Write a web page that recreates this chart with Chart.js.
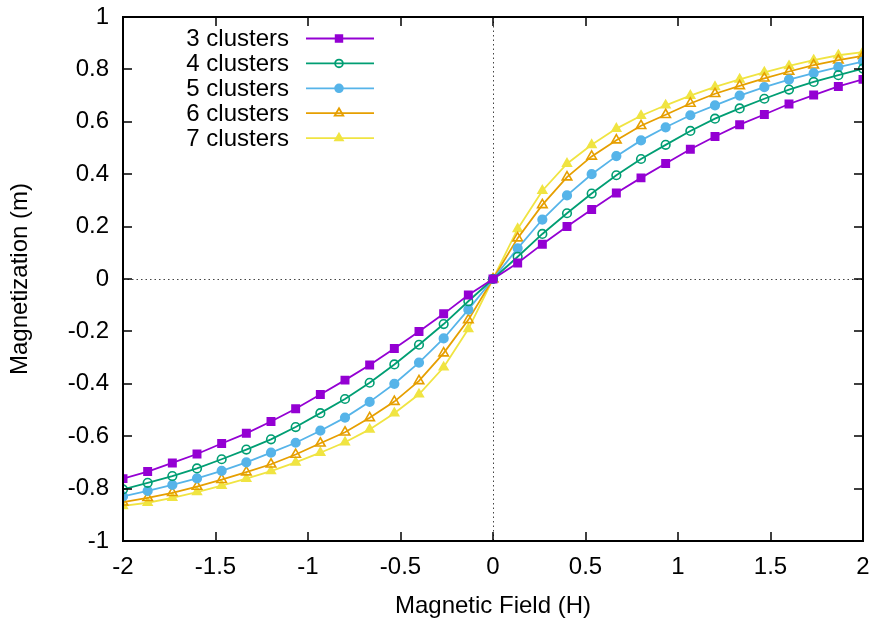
<!DOCTYPE html>
<html>
<head>
<meta charset="utf-8">
<script src="https://cdn.jsdelivr.net/npm/chart.js@4/dist/chart.umd.min.js"></script>
<style>
  html, body { margin: 0; padding: 0; background: #fff; }
  #wrap { width: 874px; height: 622px; }
</style>
</head>
<body>
<div id="wrap"><canvas id="c" width="874" height="622"></canvas></div>
<script>
// field values H
var field = [-2, -1.8667, -1.7333, -1.6, -1.4667, -1.3333, -1.2, -1.0667, -0.9333, -0.8, -0.6667, -0.5333, -0.4, -0.2667, -0.1333,
  0, 0.1333, 0.2667, 0.4, 0.5333, 0.6667, 0.8, 0.9333, 1.0667, 1.2, 1.3333, 1.4667, 1.6, 1.7333, 1.8667, 2];

// magnetization m for each cluster count
var m3 = [-0.762, -0.735, -0.702, -0.668, -0.628, -0.589, -0.544, -0.495, -0.441, -0.386, -0.328, -0.265, -0.200, -0.133, -0.061,
  0, 0.061, 0.133, 0.200, 0.265, 0.328, 0.386, 0.441, 0.495, 0.544, 0.589, 0.628, 0.668, 0.702, 0.735, 0.762];
var m4 = [-0.803, -0.778, -0.752, -0.723, -0.688, -0.651, -0.612, -0.565, -0.512, -0.458, -0.396, -0.326, -0.251, -0.172, -0.085,
  0, 0.085, 0.172, 0.251, 0.326, 0.396, 0.458, 0.512, 0.565, 0.612, 0.651, 0.688, 0.723, 0.752, 0.778, 0.803];
var m5 = [-0.830, -0.809, -0.786, -0.761, -0.732, -0.700, -0.663, -0.625, -0.579, -0.529, -0.469, -0.400, -0.319, -0.227, -0.117,
  0, 0.117, 0.227, 0.319, 0.400, 0.469, 0.529, 0.579, 0.625, 0.663, 0.700, 0.732, 0.761, 0.786, 0.809, 0.830];
var m6 = [-0.852, -0.835, -0.816, -0.792, -0.766, -0.737, -0.707, -0.670, -0.627, -0.585, -0.530, -0.468, -0.389, -0.283, -0.156,
  0, 0.156, 0.283, 0.389, 0.468, 0.530, 0.585, 0.627, 0.670, 0.707, 0.737, 0.766, 0.792, 0.816, 0.835, 0.852];
var m7 = [-0.866, -0.854, -0.835, -0.813, -0.789, -0.762, -0.733, -0.700, -0.663, -0.623, -0.574, -0.512, -0.440, -0.337, -0.191,
  0, 0.191, 0.337, 0.440, 0.512, 0.574, 0.623, 0.663, 0.700, 0.733, 0.762, 0.789, 0.813, 0.835, 0.854, 0.866];

var seriesNames = ['3 clusters', '4 clusters', '5 clusters', '6 clusters', '7 clusters'];
var xTicks = [-2, -1.5, -1, -0.5, 0, 0.5, 1, 1.5, 2];
var yTicks = [-1, -0.8, -0.6, -0.4, -0.2, 0, 0.2, 0.4, 0.6, 0.8, 1];

var FONT = "'Liberation Sans', Arial, sans-serif";

function pairs(ys) {
  return field.map(function (h, i) { return { x: h, y: ys[i] }; });
}

function series(label, ys, color, style, filled, r) {
  return {
    label: label,
    data: pairs(ys),
    showLine: true,
    borderColor: color,
    borderWidth: 1.8,
    pointStyle: style,
    pointRadius: r,
    pointBorderWidth: 1.6,
    pointBorderColor: color,
    pointBackgroundColor: filled ? color : 'rgba(255,255,255,0)',
    pointHoverRadius: r
  };
}

// frame, inward ticks on all sides, dotted zero axes, and the key
var gnuplotFrame = {
  id: 'gnuplotFrame',
  beforeDatasetsDraw: function (chart) {
    var ctx = chart.ctx, a = chart.chartArea;
    var xs = chart.scales.x, ys = chart.scales.y;
    ctx.save();
    ctx.strokeStyle = '#444';
    ctx.lineWidth = 1;
    ctx.setLineDash([1.5, 3]);
    var x0 = Math.round(xs.getPixelForValue(0)) + 0.5;
    var y0 = Math.round(ys.getPixelForValue(0)) + 0.5;
    ctx.beginPath();
    ctx.moveTo(x0, a.top); ctx.lineTo(x0, a.bottom);
    ctx.moveTo(a.left, y0); ctx.lineTo(a.right, y0);
    ctx.stroke();
    ctx.restore();
  },
  afterDatasetsDraw: function (chart) {
    var ctx = chart.ctx, a = chart.chartArea;
    var xs = chart.scales.x, ys = chart.scales.y;
    var len = 9;
    ctx.save();
    ctx.strokeStyle = '#000';
    ctx.lineWidth = 1.5;
    ctx.beginPath();
    xTicks.forEach(function (v) {
      var px = Math.round(xs.getPixelForValue(v));
      ctx.moveTo(px, a.bottom); ctx.lineTo(px, a.bottom - len);
      ctx.moveTo(px, a.top); ctx.lineTo(px, a.top + len);
    });
    yTicks.forEach(function (v) {
      var py = Math.round(ys.getPixelForValue(v));
      ctx.moveTo(a.left, py); ctx.lineTo(a.left + len, py);
      ctx.moveTo(a.right, py); ctx.lineTo(a.right - len, py);
    });
    ctx.stroke();
    ctx.lineWidth = 2;
    ctx.strokeRect(a.left, a.top, a.right - a.left, a.bottom - a.top);

    // key, text left of the sample line
    var keyTextRight = 289, lineL = 306, lineR = 374, markX = 339;
    var rowTop = 38.5, rowStep = 24.9;
    ctx.font = '24px ' + FONT;
    ctx.textAlign = 'right';
    ctx.textBaseline = 'middle';
    chart.data.datasets.forEach(function (ds, i) {
      var y = rowTop + i * rowStep;
      ctx.fillStyle = '#000';
      ctx.fillText(ds.label, keyTextRight, y + 1);
      ctx.strokeStyle = ds.borderColor;
      ctx.lineWidth = 1.8;
      ctx.beginPath();
      ctx.moveTo(lineL, y); ctx.lineTo(lineR, y);
      ctx.stroke();
      ctx.fillStyle = ds.pointBackgroundColor;
      ctx.strokeStyle = ds.pointBorderColor;
      Chart.helpers.drawPoint(ctx, {
        pointStyle: ds.pointStyle, radius: ds.pointRadius * 0.9, rotation: 0, borderWidth: 1.5
      }, markX, y);
    });
    ctx.restore();
  }
};

var config = {
  type: 'scatter',
  data: {
    datasets: [
      series(seriesNames[0], m3, '#9400d3', 'rect', true, 5.2),
      series(seriesNames[1], m4, '#009e73', 'circle', false, 4.3),
      series(seriesNames[2], m5, '#56b4e9', 'circle', true, 4.3),
      series(seriesNames[3], m6, '#e69f00', 'triangle', false, 5.5),
      series(seriesNames[4], m7, '#f0e442', 'triangle', true, 5)
    ]
  },
  options: {
    responsive: false,
    animation: false,
    layout: { padding: { left: 0, right: 11, top: 17, bottom: 0 } },
    plugins: {
      legend: { display: false },
      tooltip: { enabled: false }
    },
    scales: {
      x: {
        type: 'linear',
        min: -2, max: 2,
        afterBuildTicks: function (s) { s.ticks = xTicks.map(function (v) { return { value: v }; }); },
        afterFit: function (s) { s.height = 81; s.paddingLeft = 0; s.paddingRight = 0; },
        grid: { display: false, drawTicks: false },
        border: { display: false },
        ticks: {
          color: '#000', padding: 12, maxRotation: 0,
          font: { family: FONT, size: 24 },
          callback: function (v) { return String(v); }
        },
        title: {
          display: true, text: 'Magnetic Field (H)', color: '#000',
          font: { family: FONT, size: 24 }, padding: { top: 4, bottom: 1 }
        }
      },
      y: {
        type: 'linear',
        min: -1, max: 1,
        afterBuildTicks: function (s) { s.ticks = yTicks.map(function (v) { return { value: v }; }); },
        afterFit: function (s) { s.width = 123; s.paddingTop = 0; s.paddingBottom = 0; },
        grid: { display: false, drawTicks: false },
        border: { display: false },
        ticks: {
          color: '#000', padding: 14,
          font: { family: FONT, size: 24 },
          callback: function (v) { return String(v); }
        },
        title: {
          display: true, text: 'Magnetization (m)', color: '#000',
          font: { family: FONT, size: 24 }, padding: { top: 6, bottom: 0 }
        }
      }
    }
  },
  plugins: [gnuplotFrame]
};

new Chart(document.getElementById('c').getContext('2d'), config);
</script>
</body>
</html>
